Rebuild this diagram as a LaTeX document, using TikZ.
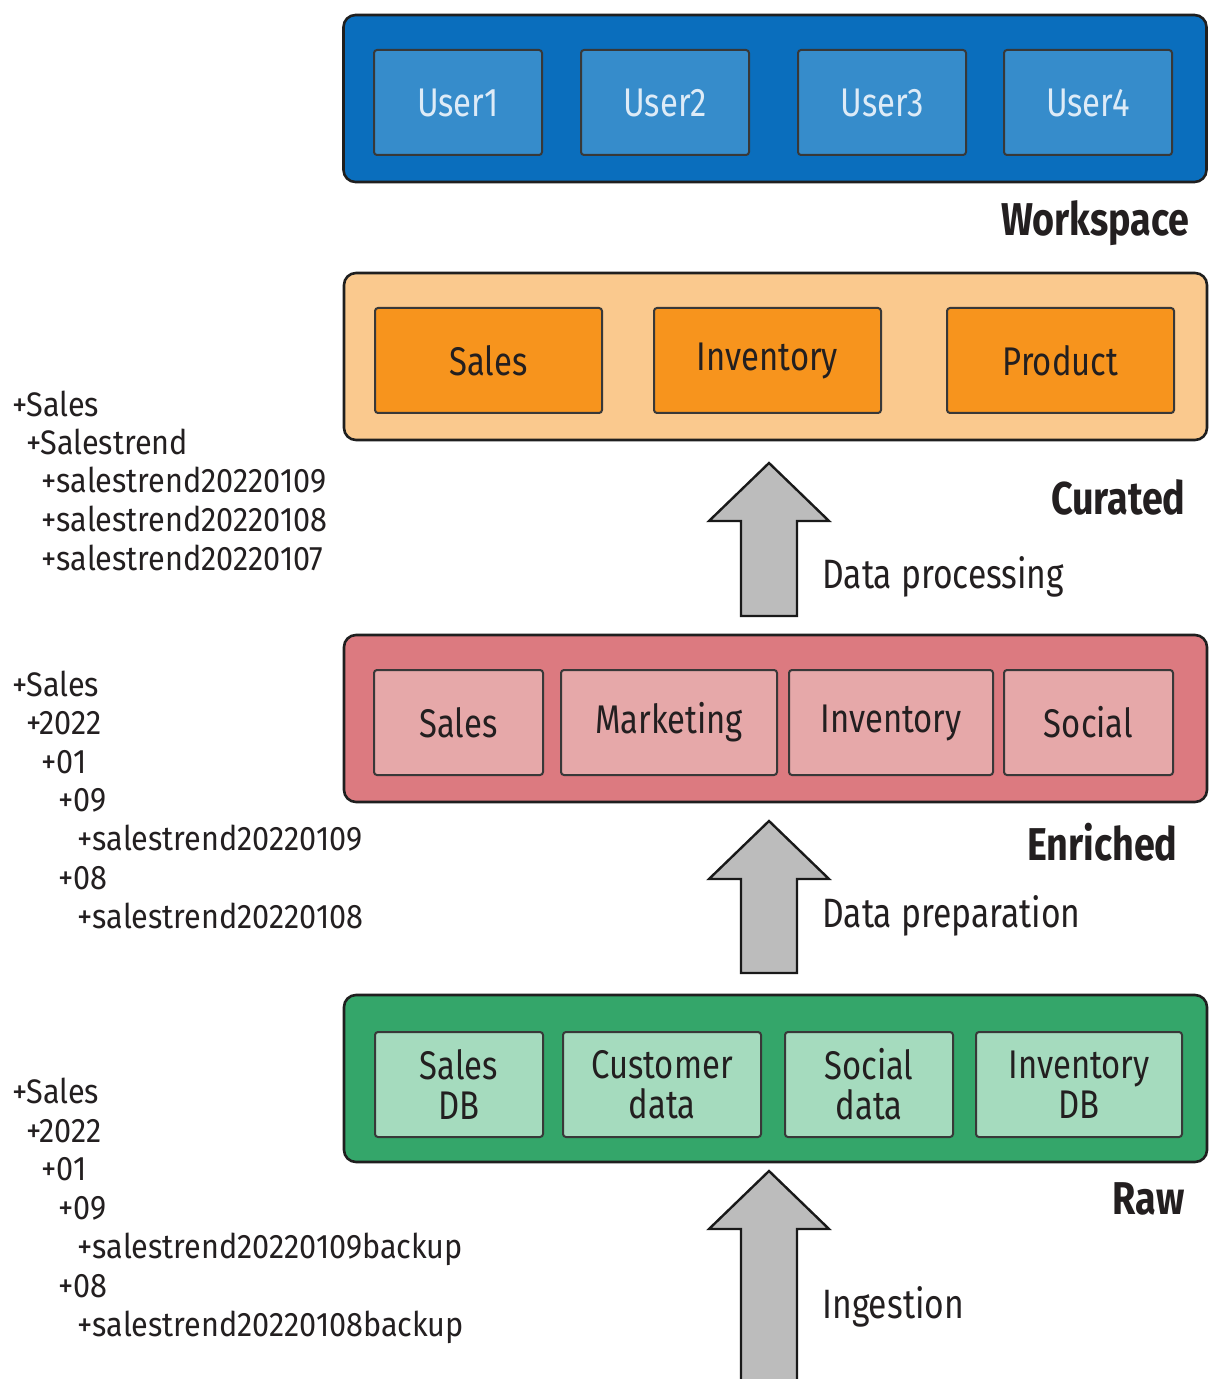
\documentclass[tikz,border=0pt]{standalone}
\usepackage{fontspec}
\setmainfont[FakeStretch=0.82]{Fira Sans}
\newfontfamily\treefont[FakeStretch=0.9]{Fira Sans}
\begin{document}
\begin{tikzpicture}[x=0.5pt,y=-0.5pt,
  outer/.style={draw=black!88, line width=1.3pt, rounded corners=6pt, minimum width=431.5pt, minimum height=83.5pt, inner sep=0pt},
  inbox/.style={draw=black!78, line width=1pt, rounded corners=1.5pt, minimum height=52.5pt, inner sep=0pt, align=center, text=txt, font=\fontsize{20}{20}\selectfont},
  layer/.style={anchor=base east, inner sep=0pt, text=txt, font=\fontsize{23}{23}\selectfont\bfseries},
  steplabel/.style={anchor=base west, inner sep=0pt, text=txt, font=\fontsize{20.5}{20.5}\selectfont},
  treeline/.style={anchor=base west, inner sep=0pt, text=txt, font=\treefont\fontsize{17}{17}\selectfont},
  bigarrow/.style={draw=black!90, line width=1.2pt, fill=arrowgray, line join=miter}
]
\definecolor{txt}{HTML}{231F20}
\definecolor{wsout}{HTML}{0A6EBD}
\definecolor{wsin}{HTML}{368CCB}
\definecolor{wstxt}{HTML}{DDEBF7}
\definecolor{curout}{HTML}{FAC98E}
\definecolor{curin}{HTML}{F7941D}
\definecolor{enrout}{HTML}{DC7A80}
\definecolor{enrin}{HTML}{E6A8A9}
\definecolor{rawout}{HTML}{34A66A}
\definecolor{rawin}{HTML}{A5DBBE}
\definecolor{arrowgray}{HTML}{BCBCBC}
\useasboundingbox[fill=white] (0,0) rectangle (1208,1379);

% Workspace
\node[outer, fill=wsout] (ws) at (775,98.5) {};
\node[inbox, fill=wsin, text=wstxt, minimum width=84pt] (u1) at (458,102.5) {User1};
\node[inbox, fill=wsin, text=wstxt, minimum width=84pt] (u2) at (665,102.5) {User2};
\node[inbox, fill=wsin, text=wstxt, minimum width=84pt] (u3) at (882,102.5) {User3};
\node[inbox, fill=wsin, text=wstxt, minimum width=84pt] (u4) at (1088,102.5) {User4};
\node[layer] (wsl) at (1190,236) {Workspace};

% Curated
\node[outer, fill=curout] (cur) at (775.5,356.5) {};
\node[inbox, fill=curin, minimum width=113.5pt] (c1) at (488.5,360.5) {Sales};
\node[inbox, fill=curin, minimum width=113.5pt] (c2) at (767.5,360.5) {Inventory};
\node[inbox, fill=curin, minimum width=113.5pt] (c3) at (1060.5,360.5) {Product};
\node[layer] (curl) at (1186,514) {Curated};

% Enriched
\node[outer, fill=enrout] (enr) at (775.5,718.5) {};
\node[inbox, fill=enrin, minimum width=84.5pt] (e1) at (458.5,722.5) {Sales};
\node[inbox, fill=enrin, minimum width=108pt] (e2) at (669,722.5) {Marketing};
\node[inbox, fill=enrin, minimum width=102pt] (e3) at (891,722.5) {Inventory};
\node[inbox, fill=enrin, minimum width=84.5pt] (e4) at (1088.5,722.5) {Social};
\node[layer] (enrl) at (1178,860) {Enriched};

% Raw
\node[outer, fill=rawout] (raw) at (775.5,1078.5) {};
\node[inbox, fill=rawin, minimum width=84pt] (r1) at (459,1084.5) {Sales\\DB};
\node[inbox, fill=rawin, minimum width=99pt] (r2) at (662,1084.5) {Customer\\data};
\node[inbox, fill=rawin, minimum width=84pt] (r3) at (869,1084.5) {Social\\data};
\node[inbox, fill=rawin, minimum width=103pt] (r4) at (1079,1084.5) {Inventory\\DB};
\node[layer] (rawl) at (1185,1214) {Raw};

% Block arrows
\draw[bigarrow] (741,616) -- (797,616) -- (797,521) -- (829,521) -- (769,463) -- (709,521) -- (741,521) -- cycle;
\draw[bigarrow] (741,973) -- (797,973) -- (797,879) -- (829,879) -- (769,821) -- (709,879) -- (741,879) -- cycle;
\draw[bigarrow] (741,1395) -- (797,1395) -- (797,1229) -- (829,1229) -- (769,1171) -- (709,1229) -- (741,1229) -- cycle;
\node[steplabel] (dp) at (822,588) {Data processing};
\node[steplabel] (dprep) at (822,927) {Data preparation};
\node[steplabel] (ing) at (822,1318) {Ingestion};

% Tree listings
\node[treeline] (a1) at (12,416) {+Sales};
\node[treeline] (a2) at (26,454) {+Salestrend};
\node[treeline] (a3) at (41,492) {+salestrend20220109};
\node[treeline] (a4) at (41,531) {+salestrend20220108};
\node[treeline] (a5) at (41,570) {+salestrend20220107};

\node[treeline] (b1) at (12,696) {+Sales};
\node[treeline] (b2) at (26,734) {+2022};
\node[treeline] (b3) at (41,773) {+01};
\node[treeline] (b4) at (58,811) {+09};
\node[treeline] (b5) at (77,850) {+salestrend20220109};
\node[treeline] (b6) at (58,889) {+08};
\node[treeline] (b7) at (77,928) {+salestrend20220108};

\node[treeline] (d1) at (12,1103) {+Sales};
\node[treeline] (d2) at (26,1142) {+2022};
\node[treeline] (d3) at (41,1180) {+01};
\node[treeline] (d4) at (58,1219) {+09};
\node[treeline] (d5) at (77,1258) {+salestrend20220109backup};
\node[treeline] (d6) at (58,1297) {+08};
\node[treeline] (d7) at (77,1336) {+salestrend20220108backup};
\end{tikzpicture}
\end{document}
